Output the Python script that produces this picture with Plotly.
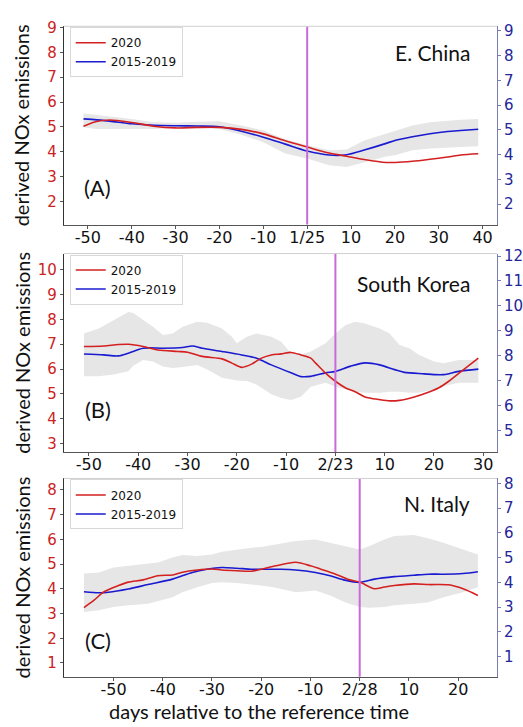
import plotly.graph_objects as go

# ---------------- data ----------------
# Panel A: E. China (reference day 1/25)
a_days_2020 = [-51, -48, -45, -40, -35, -30, -25, -20, -15, -10, -5, 0, 5, 9, 13, 18, 20, 24, 28, 32, 35, 39]
a_2020 = [5.03, 5.22, 5.28, 5.18, 5.03, 4.96, 4.98, 4.98, 4.90, 4.72, 4.44, 4.19, 3.95, 3.82, 3.69, 3.57, 3.57, 3.62, 3.70, 3.79, 3.87, 3.92]
a_days_clim = [-51, -48, -45, -40, -35, -30, -25, -20, -15, -10, -5, 0, 5, 9, 13, 18, 20, 24, 28, 32, 35, 39]
a_clim = [5.44, 5.40, 5.35, 5.24, 5.18, 5.16, 5.15, 5.12, 4.94, 4.70, 4.42, 4.14, 3.98, 3.99, 4.18, 4.45, 4.57, 4.72, 4.84, 4.93, 4.97, 5.02]
a_days_band = [-51, -48, -45, -40, -35, -30, -25, -20, -15, -10, -5, 0, 5, 9, 13, 18, 20, 24, 28, 32, 35, 39]
a_band_hi = [5.66, 5.60, 5.52, 5.43, 5.30, 5.28, 5.32, 5.34, 5.17, 4.97, 4.62, 4.37, 4.17, 4.20, 4.57, 4.85, 4.97, 5.17, 5.30, 5.36, 5.40, 5.43]
a_band_lo = [5.10, 5.03, 5.03, 5.03, 5.03, 5.08, 5.08, 5.03, 4.80, 4.50, 4.04, 3.84, 3.57, 3.50, 3.70, 3.92, 3.97, 4.17, 4.24, 4.28, 4.30, 4.33]

# Panel B: South Korea (reference day 2/23)
b_days_2020 = [-51, -47, -44, -42, -39, -36, -32, -30, -27, -23, -21, -19, -17, -15, -13, -11, -9, -7, -5, -4, -2, 0, 2, 4, 6, 9, 11, 13, 16, 19, 21, 23, 26, 29]
b_2020 = [6.91, 6.93, 6.99, 7.00, 6.91, 6.77, 6.71, 6.68, 6.51, 6.41, 6.24, 6.07, 6.20, 6.44, 6.57, 6.61, 6.67, 6.57, 6.44, 6.24, 5.84, 5.51, 5.25, 5.09, 4.88, 4.77, 4.72, 4.74, 4.88, 5.08, 5.25, 5.51, 5.98, 6.44]
b_days_clim = [-51, -47, -44, -42, -39, -35, -31, -29, -27, -23, -19, -16, -13, -9, -7, -5, -2, 0, 3, 6, 9, 12, 14, 18, 20, 22, 25, 29]
b_clim = [8.07, 8.03, 7.99, 8.10, 8.30, 8.30, 8.33, 8.39, 8.30, 8.17, 8.03, 7.90, 7.63, 7.31, 7.16, 7.17, 7.31, 7.37, 7.57, 7.71, 7.63, 7.44, 7.33, 7.27, 7.24, 7.24, 7.37, 7.46]
b_days_band = [-51, -48, -45, -42, -41, -39, -37, -35, -33, -31, -28, -26, -23, -21, -20, -18, -16, -13, -11, -9, -7, -5, -2, 0, 2, 4, 6, 9, 11, 13, 15, 17, 20, 22, 25, 27, 29]
b_band_hi = [8.89, 9.09, 9.42, 9.75, 9.71, 9.42, 9.16, 8.83, 8.89, 9.16, 9.36, 9.32, 9.09, 8.76, 8.50, 8.76, 8.89, 8.76, 8.56, 8.10, 8.05, 8.17, 8.50, 8.89, 9.22, 9.36, 9.29, 9.09, 8.89, 8.43, 8.30, 8.03, 7.77, 7.70, 7.83, 7.83, 7.83]
b_band_lo = [7.17, 7.17, 7.24, 7.37, 7.60, 7.83, 7.77, 7.57, 7.50, 7.55, 7.63, 7.44, 7.11, 7.04, 7.00, 6.98, 6.84, 6.45, 6.30, 6.22, 6.35, 6.75, 6.91, 6.75, 6.64, 6.55, 6.51, 6.51, 6.55, 6.55, 6.51, 6.51, 6.64, 6.78, 6.91, 6.91, 6.91]

# Panel C: N. Italy (reference day 2/28)
c_days_2020 = [-56, -54, -52, -49, -47, -44, -41, -38, -36, -33, -30, -28, -25, -22, -20, -17, -13, -10, -8, -5, -2, 0, 3, 5, 7, 11, 14, 18, 21, 24]
c_2020 = [3.24, 3.53, 3.87, 4.13, 4.27, 4.36, 4.53, 4.56, 4.67, 4.76, 4.80, 4.76, 4.73, 4.71, 4.79, 4.93, 5.07, 4.93, 4.80, 4.60, 4.36, 4.27, 4.00, 4.07, 4.13, 4.20, 4.17, 4.16, 4.00, 3.73]
c_days_clim = [-56, -53, -51, -47, -43, -38, -34, -31, -28, -25, -22, -20, -16, -13, -9, -6, -3, 0, 3, 7, 11, 14, 17, 21, 24]
c_clim = [3.62, 3.58, 3.60, 3.73, 3.91, 4.13, 4.40, 4.53, 4.60, 4.57, 4.53, 4.53, 4.53, 4.50, 4.40, 4.27, 4.09, 4.00, 4.13, 4.23, 4.29, 4.33, 4.33, 4.36, 4.43]
c_days_band = [-56, -53, -50, -47, -43, -41, -38, -36, -33, -30, -28, -25, -22, -20, -17, -13, -9, -6, -3, 0, 2, 5, 7, 11, 14, 17, 21, 24]
c_band_hi = [4.36, 4.40, 4.60, 4.67, 4.74, 4.80, 5.00, 5.11, 5.07, 5.13, 5.24, 5.33, 5.40, 5.43, 5.53, 5.67, 5.73, 5.60, 5.47, 5.33, 5.47, 5.73, 5.87, 5.91, 5.77, 5.60, 5.33, 5.13]
c_band_lo = [2.80, 2.87, 3.00, 3.07, 3.13, 3.24, 3.40, 3.60, 3.80, 3.97, 4.00, 3.97, 3.92, 3.87, 3.78, 3.60, 3.67, 3.47, 3.20, 3.00, 2.97, 3.00, 3.07, 3.13, 3.20, 3.40, 3.60, 3.80]

regions = ["E. China", "South Korea", "N. Italy"]
panel_tags = ["(A)", "(B)", "(C)"]
ref_dates = ["1/25", "2/23", "2/28"]
ref_day = 0
x_ticks = [
    [-50, -40, -30, -20, -10, 0, 10, 20, 30, 40],
    [-50, -40, -30, -20, -10, 0, 10, 20, 30],
    [-50, -40, -30, -20, -10, 0, 10, 20],
]
left_ticks = [[2, 3, 4, 5, 6, 7, 8, 9], [3, 4, 5, 6, 7, 8, 9, 10], [1, 2, 3, 4, 5, 6, 7, 8]]
right_ticks = [[2, 3, 4, 5, 6, 7, 8, 9], [5, 6, 7, 8, 9, 10, 11, 12], [1, 2, 3, 4, 5, 6, 7, 8]]
series_names = ["2020", "2015-2019"]

# ---------------- styling / layout ----------------
W, H = 523, 727
RED = "#d42020"
BLUE = "#1a1ad0"
RED_TXT = "#cc2222"
BLUE_TXT = "#25259a"
BAND = "#e6e6e6"
VLINE = "#c86ad8"
TICK_FONT = "DejaVu Sans"
TITLE_FONT = "Lato"

panels = [
    dict(d2020=a_days_2020, v2020=a_2020, dclim=a_days_clim, vclim=a_clim,
         dband=a_days_band, hi=a_band_hi, lo=a_band_lo, tag_dy=32, name_dy=32,
         top=19.5, bottom=220, xr=[-55.5, 43.3], yl=[1.07, 9.05], yr=[1.17, 9.18]),
    dict(d2020=b_days_2020, v2020=b_2020, dclim=b_days_clim, vclim=b_clim,
         dband=b_days_band, hi=b_band_hi, lo=b_band_lo, tag_dy=38, name_dy=35,
         top=249.3, bottom=450, xr=[-55.1, 32.8], yl=[2.66, 10.65], yr=[4.13, 12.10]),
    dict(d2020=c_days_2020, v2020=c_2020, dclim=c_days_clim, vclim=c_clim,
         dband=c_days_band, hi=c_band_hi, lo=c_band_lo, tag_dy=32, name_dy=30,
         top=476.7, bottom=677.3, xr=[-60.1, 27.9], yl=[0.44, 8.46], yr=[0.18, 8.20]),
]
X0, X1 = 64, 499
TEXT_SHIFT = 5  # Lato sits a little low in its box


def fx(px):
    return px / W


def fy(py):
    return 1 - py / H


fig = go.Figure()
layout = dict(
    width=W, height=H,
    margin=dict(l=0, r=0, t=0, b=0),
    paper_bgcolor="white", plot_bgcolor="white",
    showlegend=True,
    annotations=[], shapes=[],
)

for i, p in enumerate(panels):
    n = i + 1
    xa = "x" if n == 1 else f"x{n}"
    yb = "y" if n == 1 else f"y{2 * n - 1}"      # right-hand axis (2015-2019)
    yl = f"y{2 * n}"                               # left-hand axis (2020)
    leg = "legend" if n == 1 else f"legend{n}"

    # spread of 2015-2019 as a closed polygon
    fig.add_trace(go.Scatter(
        x=p["dband"] + p["dband"][::-1], y=p["hi"] + p["lo"][::-1],
        fill="toself", fillcolor=BAND, line=dict(width=0, color=BAND),
        mode="lines", hoverinfo="skip", showlegend=False,
        xaxis=xa, yaxis=yb))
    fig.add_trace(go.Scatter(
        x=p["dclim"], y=p["vclim"], mode="lines", name=series_names[1],
        line=dict(color=BLUE, width=1.6, shape="spline", smoothing=0.8),
        legend=leg, legendrank=2, xaxis=xa, yaxis=yb))
    fig.add_trace(go.Scatter(
        x=p["d2020"], y=p["v2020"], mode="lines", name=series_names[0],
        line=dict(color=RED, width=1.6, shape="spline", smoothing=0.8),
        legend=leg, legendrank=1, xaxis=xa, yaxis=yl))

    ttext = [ref_dates[i] if t == ref_day else str(t) for t in x_ticks[i]]
    layout["xaxis" if n == 1 else f"xaxis{n}"] = dict(
        domain=[fx(X0), fx(X1)], range=p["xr"], anchor=yb,
        tickvals=x_ticks[i], ticktext=ttext,
        tickfont=dict(family=TICK_FONT, size=16, color="#111111"),
        ticks="outside", ticklen=3, tickcolor="#555555", ticklabelstandoff=-5,
        showline=True, linecolor="#555555", linewidth=1,
        showgrid=False, zeroline=False, fixedrange=True)
    layout["yaxis" if n == 1 else f"yaxis{2 * n - 1}"] = dict(
        domain=[fy(p["bottom"]), fy(p["top"])], range=p["yr"], anchor=xa,
        side="right", tickvals=right_ticks[i],
        tickfont=dict(family=TICK_FONT, size=15, color=BLUE_TXT),
        ticks="outside", ticklen=3, tickcolor="#7a7ab4",
        showline=True, linecolor="#7a7ab4", linewidth=1,
        showgrid=False, zeroline=False)
    layout[f"yaxis{2 * n}"] = dict(
        overlaying=yb, range=p["yl"], anchor=xa, side="left",
        tickvals=left_ticks[i],
        tickfont=dict(family=TICK_FONT, size=15, color=RED_TXT),
        ticks="outside", ticklen=3, tickcolor="#555555",
        showline=True, linecolor="#333333", linewidth=1,
        showgrid=False, zeroline=False)

    # legend box in the upper-left corner of each panel
    layout[leg] = dict(
        x=fx(70), y=fy(p["top"] + 1), xanchor="left", yanchor="top",
        bgcolor="white", bordercolor="#d8d8d8", borderwidth=1,
        font=dict(family=TICK_FONT, size=12, color="#111111"),
        tracegroupgap=0, itemwidth=30, traceorder="normal")

    # reference-date marker and the light top frame
    layout["shapes"].append(dict(
        type="line", xref=xa, yref=f"{yb} domain", x0=ref_day, x1=ref_day, y0=0, y1=1,
        line=dict(color=VLINE, width=2)))
    layout["shapes"].append(dict(
        type="line", xref=f"{xa} domain", yref=f"{yb} domain", x0=0, x1=1, y0=1, y1=1,
        line=dict(color="#cfcfcf", width=1)))

    mid = (p["top"] + p["bottom"]) / 2
    layout["annotations"] += [
        dict(text=regions[i], xref="paper", yref="paper", x=fx(474),
             y=fy(p["top"] + p["name_dy"] - TEXT_SHIFT),
             xanchor="right", yanchor="middle", showarrow=False,
             font=dict(family=TITLE_FONT, size=21, color="#111111")),
        dict(text=panel_tags[i], xref="paper", yref="paper", x=fx(98),
             y=fy(p["bottom"] - p["tag_dy"] - TEXT_SHIFT),
             xanchor="center", yanchor="middle", showarrow=False,
             font=dict(family=TITLE_FONT, size=22, color="#111111")),
        dict(text="derived NOx emissions", xref="paper", yref="paper", x=fx(22), y=fy(mid),
             xanchor="center", yanchor="middle", textangle=-90, showarrow=False,
             font=dict(family=TITLE_FONT, size=20, color="#111111")),
    ]

layout["annotations"].append(dict(
    text="days relative to the reference time", xref="paper", yref="paper",
    x=fx(260), y=fy(698), xanchor="center", yanchor="top", showarrow=False,
    font=dict(family=TITLE_FONT, size=20, color="#111111")))

fig.update_layout(**layout)
fig.write_html("out.html")
